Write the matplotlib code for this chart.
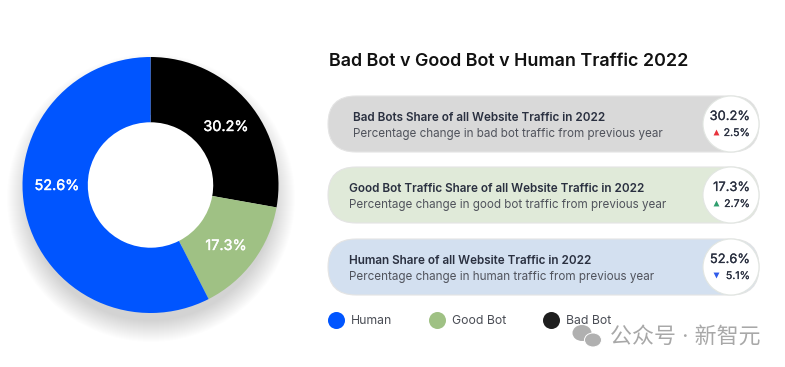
import matplotlib
matplotlib.use("Agg")
import matplotlib.pyplot as plt
import matplotlib.patheffects as pe
from matplotlib.patches import Circle, Ellipse, FancyBboxPatch

plt.rcParams["font.family"] = ["Inter", "Noto Sans CJK SC", "DejaVu Sans"]

W, H = 785, 367

# data: wedge sizes as drawn in the picture, which differ a bit from the printed shares
share_labels = ["Bad Bot", "Good Bot", "Human"]
wedge_sizes = [27.8, 14.7, 57.5]
share_text = ["30.2%", "17.3%", "52.6%"]
share_colors = ["#000000", "#9fc184", "#0055ff"]

pill_titles = ["Bad Bots Share of all Website Traffic in 2022",
               "Good Bot Traffic Share of all Website Traffic in 2022",
               "Human Share of all Website Traffic in 2022"]
pill_subs = ["Percentage change in bad bot traffic from previous year",
             "Percentage change in good bot traffic from previous year",
             "Percentage change in human traffic from previous year"]
pill_changes = ["2.5%", "2.7%", "5.1%"]
pill_markers = ["^", "^", "v"]
pill_marker_colors = ["#e8333c", "#2f9e6e", "#2f5bea"]
pill_colors = ["#d9d9d9", "#e0ead9", "#d3e0f0"]
pill_tops = [96, 167, 239]
pill_text_x = [353, 349, 349]

legend_labels = ["Human", "Good Bot", "Bad Bot"]
legend_colors = ["#0055ff", "#9fc184", "#1e1e1e"]
legend_x = [336, 437, 551]

fig = plt.figure(figsize=(W / 100, H / 100), dpi=100, facecolor="white")

ax = fig.add_axes([0, 0, 1, 1])
ax.set_xlim(0, W); ax.set_ylim(H, 0)
ax.axis("off")

# soft shadow under the donut
for r in range(144, 122, -1):
    ax.add_patch(Circle((151, 198), r, fc="#333333", ec="none", alpha=0.006, zorder=1))

# donut
cx, cy, R = 150.5, 185, 128
ax.add_patch(Circle((cx, cy), 70, fc="white", ec="none", zorder=2))
pie_ax = fig.add_axes([(cx - R) / W, 1 - (cy + R) / H, 2 * R / W, 2 * R / H])
pie_ax.pie(wedge_sizes, colors=share_colors, startangle=90, counterclock=False,
           radius=1.0, wedgeprops=dict(width=0.51, linewidth=0))
pie_ax.set_xlim(-1, 1); pie_ax.set_ylim(-1, 1)
pie_ax.patch.set_alpha(0)

ax2 = fig.add_axes([0, 0, 1, 1], facecolor="none")
ax2.set_xlim(0, W); ax2.set_ylim(H, 0)
ax2.axis("off")

for x, y, s in zip([226, 226, 57], [127, 246, 186], share_text):
    ax2.text(x, y, s, color="white", fontsize=10.4, ha="center", va="center",
             path_effects=[pe.withStroke(linewidth=0.3, foreground="white")])

ax2.text(329, 62, "Bad Bot v Good Bot v Human Traffic 2022", fontsize=12.9, fontweight="semibold",
         color="#111111", ha="left", va="center")

h = 56
for i in range(3):
    top = pill_tops[i]
    mid = top + h / 2
    ax2.add_patch(FancyBboxPatch((328 + 28, top + 28), 431 - 56, 0, boxstyle="round,pad=28,rounding_size=28",
                                 fc=pill_colors[i], ec="#e4e4e4", lw=0.8))
    ax2.add_patch(Circle((731, mid), 28, fc="white", ec="#e2e6e2", lw=0.8))
    ax2.text(pill_text_x[i], mid - 6, pill_titles[i], fontsize=8.45, fontweight="semibold",
             color="#2a3040", ha="left", va="center")
    ax2.text(pill_text_x[i], mid + 10, pill_subs[i], fontsize=8.4, color="#50535c", ha="left", va="center")
    ax2.text(750, mid - 7, share_text[i], fontsize=9.3, color="#2a3040", ha="right", va="center",
             path_effects=[pe.withStroke(linewidth=0.15, foreground="#2a3040")])
    ax2.text(750, mid + 9, pill_changes[i], fontsize=7.6, color="#2a3040", ha="right", va="center",
             path_effects=[pe.withStroke(linewidth=0.15, foreground="#2a3040")])
    ax2.scatter([716], [mid + 8], marker=pill_markers[i], s=18, color=pill_marker_colors[i], lw=0)

for x, lab, col in zip(legend_x, legend_labels, legend_colors):
    ax2.scatter([x], [320], s=150, color=col, lw=0)
    ax2.text(x + 15, 320.5, lab, fontsize=8.8, color="#4a4d55", ha="left", va="center")

# watermark
ax2.add_patch(Ellipse((582, 333), 19, 16, fc="#b0b0b0", ec="none"))
ax2.add_patch(Ellipse((593, 340), 17, 14, fc="#b0b0b0", ec="white", lw=0.7))
ax2.text(610, 336.5, "公众号 · 新智元", fontsize=15.8, color="#a8a8a8", ha="left", va="center")

fig.savefig("out.png", dpi=100)
